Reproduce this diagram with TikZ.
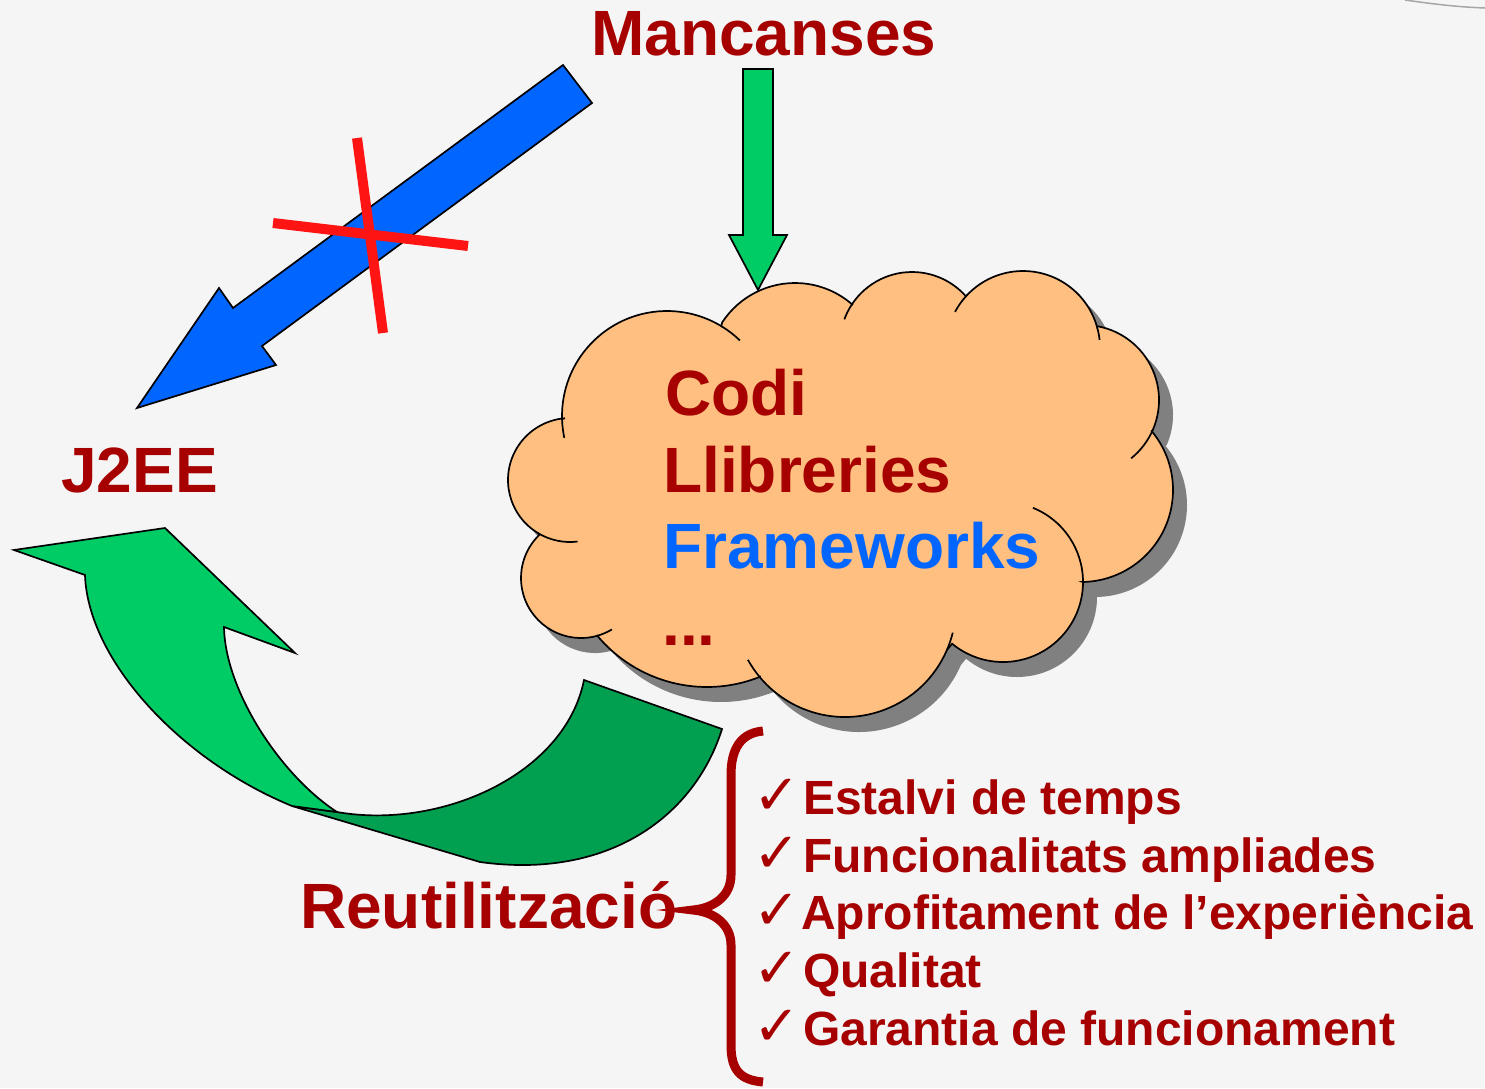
\documentclass[tikz,border=0pt]{standalone}
\usepackage{fontspec}
\setmainfont{Liberation Sans}
\newfontfamily\dejavu{DejaVu Sans}
\usetikzlibrary{calc}
\definecolor{bg}{RGB}{245,245,245}
\definecolor{dred}{RGB}{166,0,0}
\definecolor{fblue}{RGB}{0,102,255}
\definecolor{lgreen}{RGB}{0,204,102}
\definecolor{dgreen}{RGB}{0,160,80}
\definecolor{peach}{RGB}{255,191,128}
\definecolor{shadowgray}{RGB}{128,128,128}
\definecolor{xred}{RGB}{255,20,20}
% one bump of the cloud: centre, start angle, end angle, radius
\newcommand\bmp[4]{($(#1)+(#2:#4)$) arc[start angle=#2, end angle=#3, radius=#4]}
\newcommand\cloudpath{\bmp{ck}{178.3}{301.1}{105} -- \bmp{ca}{213.1}{311.7}{87} -- \bmp{cb}{213.5}{318.3}{72} -- \bmp{cc}{223.4}{344.2}{77} -- \bmp{cd}{280.1}{383.5}{75} -- \bmp{ce}{320.2}{448.8}{92} -- \bmp{cf}{0}{129.5}{80} -- \bmp{cg}{23.3}{140.1}{111} -- \bmp{ch}{68.3}{140.4}{143} -- \bmp{ci}{74.3}{226.3}{60} -- \bmp{cj}{121.1}{265.3}{62} -- cycle}
\tikzset{
  bigtxt/.style={font=\bfseries\fontsize{64}{70}\selectfont, text=dred, inner sep=0pt, anchor=base west},
  itemtxt/.style={font=\bfseries\fontsize{48}{54}\selectfont, text=dred, inner sep=0pt, anchor=base west},
  ticktxt/.style={font=\dejavu\fontsize{56}{60}\selectfont, text=dred, inner sep=0pt, anchor=base west},
  outl/.style={draw=black, line width=1.7pt, line join=miter},
}
\begin{document}
\begin{tikzpicture}[x=1pt,y=-1pt]
\useasboundingbox (0,0) rectangle (1485,1088);
\fill[bg] (0,0) rectangle (1485,1088);
\draw[gray!70, line width=1.5pt] (1405,0) .. controls (1440,5) and (1460,7) .. (1485,8);
% cloud bump centres
\coordinate (ck) at (667,416);
\coordinate (ca) at (795,370);
\coordinate (cb) at (912,344);
\coordinate (cc) at (1023,348);
\coordinate (cd) at (1084,400);
\coordinate (ce) at (1081,490);
\coordinate (cf) at (1003,582);
\coordinate (cg) at (845,606);
\coordinate (ch) at (707,544);
\coordinate (ci) at (581,578);
\coordinate (cj) at (570,480);
% shadow
\begin{scope}[transform canvas={xshift=14pt,yshift=-15pt}]
\fill[shadowgray] \cloudpath;
\end{scope}
\fill[peach] \cloudpath;
\draw[outl] \cloudpath;
% inner stubs
\draw[outl] \bmp{ck}{178.3}{168}{105};
\draw[outl] \bmp{ck}{301.1}{314}{105};
\draw[outl] \bmp{cb}{213.5}{200}{72};
\draw[outl] \bmp{cc}{223.4}{208}{77};
\draw[outl] \bmp{cc}{344.2}{354}{77};
\draw[outl] \bmp{cd}{383.5}{411}{75};
\draw[outl] \bmp{cf}{0}{-68}{80};
\draw[outl] \bmp{cg}{23.3}{13.9}{111};
\draw[outl] \bmp{cg}{140.1}{151}{111};
\draw[outl] \bmp{ci}{74.3}{59}{60};
\draw[outl] \bmp{cj}{121.1}{83}{62};
% texts
\node[bigtxt] (mancanses) at (591,55) {Mancanses};
\node[bigtxt] (j2ee) at (61,492) {J2EE};
\node[bigtxt] (codi) at (665,415) {Codi};
\node[bigtxt] (llib) at (663,492) {Llibreries};
\node[bigtxt, text=fblue] (frame) at (663,568) {Frameworks};
\node[bigtxt] (dots) at (662,645) {...};
\node[bigtxt] (reut) at (300,928) {Reutilització};
% green down arrow
\filldraw[fill=lgreen, outl] (743,69) -- (773,69) -- (773,235) -- (787,235) -- (758,290) -- (729,235) -- (743,235) -- cycle;
% blue arrow
\filldraw[fill=fblue, outl] (563,65) -- (592,103) -- (262,346) -- (276,365) -- (137,408) -- (219,288) -- (233,308) -- cycle;
\draw[xred, line width=10pt] (357,138) -- (383,333);
\draw[xred, line width=10pt] (273,223) -- (468,246);
% curved arrow
\filldraw[fill=dgreen, outl] (292,806) -- (337,812) .. controls (440,830) and (565,775) .. (584,680) -- (722,729) .. controls (695,815) and (610,880) .. (480,862) -- cycle;
\filldraw[fill=lgreen, outl] (14,550) -- (165,528) -- (295,653) -- (224,627) .. controls (225,690) and (280,775) .. (337,812) -- (292,806) .. controls (180,760) and (88,660) .. (85,575) -- cycle;
% brace
\draw[dred, line width=9pt] (763,731) .. controls (740,733) and (731,750) .. (731,775) -- (731,875) .. controls (731,895) and (715,908) .. (693,910) .. controls (715,912) and (731,925) .. (731,945) -- (731,1045) .. controls (731,1070) and (740,1080) .. (763,1082);
% list
\node[ticktxt] (t1) at (753,814) {✓};
\node[ticktxt] (t2) at (753,872) {✓};
\node[ticktxt] (t3) at (753,929) {✓};
\node[ticktxt] (t4) at (753,987) {✓};
\node[ticktxt] (t5) at (753,1045) {✓};
\node[itemtxt] (i1) at (803,814) {Estalvi de temps};
\node[itemtxt] (i2) at (803,872) {Funcionalitats ampliades};
\node[itemtxt] (i3) at (801,929) {Aprofitament de l’experiència};
\node[itemtxt] (i4) at (803,987) {Qualitat};
\node[itemtxt] (i5) at (803,1045) {Garantia de funcionament};
\end{tikzpicture}
\end{document}
